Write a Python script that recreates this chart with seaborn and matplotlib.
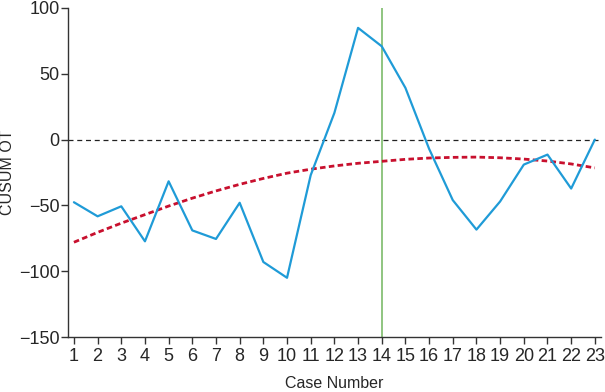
import pandas as pd
import numpy as np
import matplotlib.pyplot as plt
import seaborn as sns

sns.set_style("ticks")
plt.rcParams["font.family"] = ["Liberation Sans", "DejaVu Sans"]

# case numbers and CUSUM values
cases = list(range(1, 24))
cusum = [-47.6, -58.3, -50.7, -77.3, -31.7, -69, -75.5, -48, -93, -105,
         -27, 20.3, 84.9, 70.9, 39.3, -7, -46, -68.4, -47, -19,
         -11.4, -37.2, 0]
trend = [-78, -70.5, -63.5, -57, -50.5, -44.5, -39, -34, -29.5, -25.5,
         -22.5, -20, -18, -16.5, -15, -14, -13.5, -13.3, -13.8, -14.8,
         -16.3, -18.5, -21.5]
cut_case = 14

df = pd.DataFrame({"case": cases, "cusum": cusum, "trend": trend})

fig = plt.figure(figsize=(6.05, 3.92), dpi=100)
ax = fig.add_axes([0.1124, 0.1403, 0.8806, 0.8393])

ax.axhline(0, color="#222222", lw=0.9, ls=(0, (4, 3)), zorder=1)
ax.axvline(cut_case, color="#7dbb6b", lw=1.2, zorder=1)
sns.lineplot(data=df, x="case", y="trend", ax=ax, color="#c8102e",
             lw=2.0, ls=(0, (2, 1.2)), zorder=2)
sns.lineplot(data=df, x="case", y="cusum", ax=ax, color="#1f9bd7",
             lw=1.6, zorder=3)

ax.set_xlim(0.75, 23.25)
ax.set_ylim(-150, 100)
ax.set_xticks(cases)
ax.set_yticks([-150, -100, -50, 0, 50, 100])
ax.set_yticklabels(["\u2212150", "\u2212100", "\u221250", "0", "50", "100"])
ax.tick_params(axis="both", labelsize=13, length=5, width=1, color="#333333")
ax.tick_params(axis="x", pad=3)
ax.tick_params(axis="y", pad=1)
ax.set_xlabel("Case Number", fontsize=11.5)
ax.set_ylabel("CUSUM OT", fontsize=11.5)
ax.xaxis.set_label_coords(0.5, -0.12)
ax.yaxis.set_label_coords(-0.1, 0.5)
sns.despine(ax=ax)
for s in ["left", "bottom"]:
    ax.spines[s].set_color("#333333")
    ax.spines[s].set_linewidth(1)

fig.savefig("out.png", dpi=100)
